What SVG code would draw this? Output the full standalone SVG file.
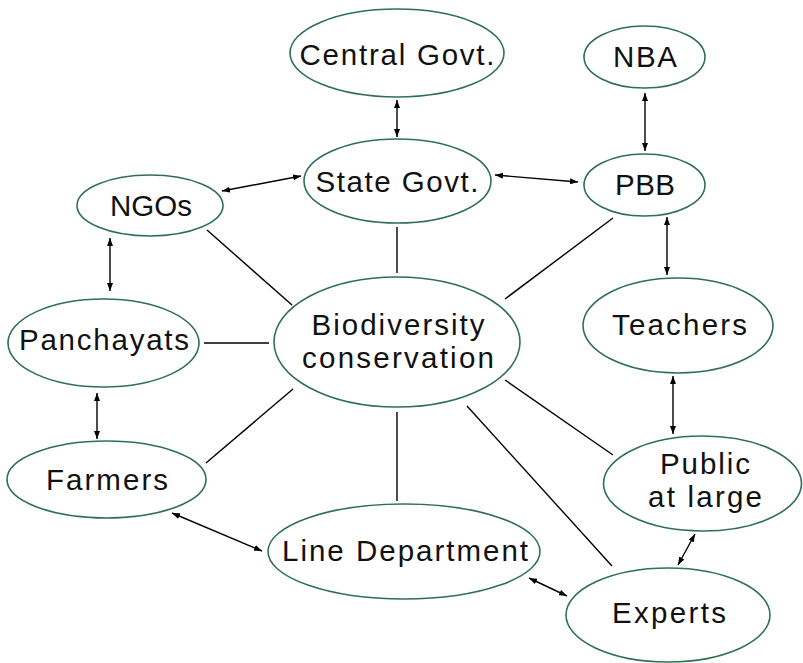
<svg xmlns="http://www.w3.org/2000/svg" width="803" height="663" viewBox="0 0 803 663">
  <defs>
    <marker id="tip" viewBox="0 0 8 6" refX="8" refY="3" markerWidth="8" markerHeight="6" markerUnits="userSpaceOnUse" orient="auto-start-reverse">
      <path d="M0,0 L8,3 L0,6 Z" fill="#000"/>
    </marker>
    <style>
      .node ellipse { fill: #fff; stroke: #2f7055; stroke-width: 1.6; }
      .node text { font-family: "Liberation Sans", Arial, sans-serif; font-size: 29.5px; fill: #111; text-anchor: middle; }
      .links line { stroke: #000; stroke-width: 1.4; }
      .links .both { marker-start: url(#tip); marker-end: url(#tip); }
    </style>
  </defs>
  <rect width="803" height="663" fill="#fff"/>

  <g id="links" class="links">
    <!-- spokes from the centre -->
    <line x1="207" y1="230" x2="292" y2="305"/>
    <line x1="397" y1="227" x2="397" y2="273"/>
    <line x1="505" y1="299" x2="613" y2="218"/>
    <line x1="204" y1="343" x2="269" y2="343"/>
    <line x1="206" y1="463" x2="293" y2="389"/>
    <line x1="397" y1="412" x2="397" y2="501"/>
    <line x1="467" y1="406" x2="612" y2="566"/>
    <line x1="505" y1="380" x2="613" y2="455"/>
    <!-- two-way links -->
    <line class="both" x1="397" y1="100" x2="397" y2="137"/>
    <line class="both" x1="645" y1="93" x2="645" y2="151"/>
    <line class="both" x1="495" y1="175" x2="578" y2="182"/>
    <line class="both" x1="301" y1="176" x2="222" y2="191"/>
    <line class="both" x1="110" y1="238" x2="110" y2="291"/>
    <line class="both" x1="97" y1="393" x2="97" y2="439"/>
    <line class="both" x1="172" y1="513" x2="262" y2="551"/>
    <line class="both" x1="529" y1="578" x2="567" y2="596"/>
    <line class="both" x1="678" y1="565" x2="695" y2="534"/>
    <line class="both" x1="667" y1="217" x2="667" y2="275"/>
    <line class="both" x1="673" y1="376" x2="673" y2="434"/>
  </g>

  <g id="central-govt" class="node">
    <ellipse cx="397" cy="53" rx="107" ry="44"/>
    <text x="397" y="65" textLength="195" lengthAdjust="spacing">Central Govt.</text>
  </g>
  <g id="nba" class="node">
    <ellipse cx="644.5" cy="57" rx="60.5" ry="31"/>
    <text x="645" y="67" textLength="64" lengthAdjust="spacing">NBA</text>
  </g>
  <g id="state-govt" class="node">
    <ellipse cx="397.5" cy="181" rx="93.5" ry="42"/>
    <text x="397" y="192" textLength="163" lengthAdjust="spacing">State Govt.</text>
  </g>
  <g id="pbb" class="node">
    <ellipse cx="644.5" cy="185" rx="60.5" ry="31"/>
    <text x="645" y="195" textLength="60" lengthAdjust="spacing">PBB</text>
  </g>
  <g id="ngos" class="node">
    <ellipse cx="150" cy="205.5" rx="73" ry="30.5"/>
    <text x="151" y="216" textLength="82" lengthAdjust="spacing">NGOs</text>
  </g>
  <g id="panchayats" class="node">
    <ellipse cx="103.5" cy="343" rx="95.5" ry="44"/>
    <text x="104" y="350" textLength="170" lengthAdjust="spacing">Panchayats</text>
  </g>
  <g id="biodiversity-conservation" class="node">
    <ellipse cx="397" cy="342" rx="123" ry="65"/>
    <text x="398" y="335" textLength="173" lengthAdjust="spacing">Biodiversity</text>
    <text x="398" y="368" textLength="192" lengthAdjust="spacing">conservation</text>
  </g>
  <g id="teachers" class="node">
    <ellipse cx="678" cy="325.5" rx="95" ry="47.5"/>
    <text x="679.5" y="335" textLength="135" lengthAdjust="spacing">Teachers</text>
  </g>
  <g id="farmers" class="node">
    <ellipse cx="106.5" cy="479.5" rx="99.5" ry="38.5"/>
    <text x="107" y="490" textLength="122" lengthAdjust="spacing">Farmers</text>
  </g>
  <g id="public" class="node">
    <ellipse cx="702.5" cy="483.5" rx="99" ry="47.5"/>
    <text x="705" y="474" textLength="90" lengthAdjust="spacing">Public</text>
    <text x="705" y="507" textLength="114" lengthAdjust="spacing">at large</text>
  </g>
  <g id="line-department" class="node">
    <ellipse cx="404" cy="551.5" rx="136" ry="47.5"/>
    <text x="405" y="561" textLength="246" lengthAdjust="spacing">Line Department</text>
  </g>
  <g id="experts" class="node">
    <ellipse cx="668" cy="615" rx="102" ry="47"/>
    <text x="669" y="623" textLength="114" lengthAdjust="spacing">Experts</text>
  </g>
</svg>
